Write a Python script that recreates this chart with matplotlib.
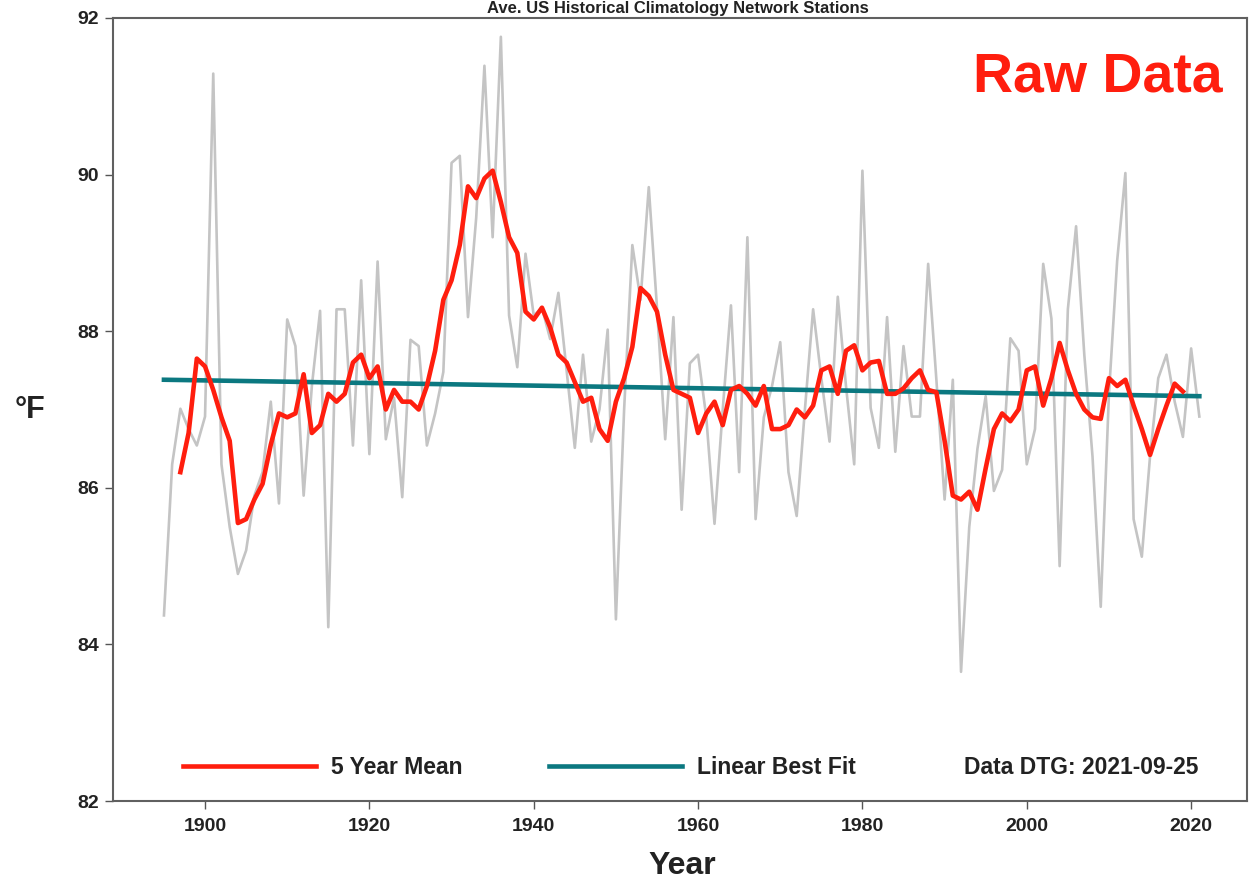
import numpy as np
import matplotlib
matplotlib.use("Agg")
import matplotlib.pyplot as plt
from matplotlib.lines import Line2D

plt.rcParams['font.family'] = ['Liberation Sans', 'DejaVu Sans']
plt.rcParams['font.weight'] = 'bold'

# ---------------- data ----------------
years = list(range(1895, 2022))
annual = [
    84.37, 86.30, 87.01, 86.75, 86.54, 86.91, 91.29, 86.30, 85.50, 84.90,   # 1895-1904
    85.20, 85.90, 86.20, 87.10, 85.80, 88.15, 87.81, 85.90, 87.30, 88.26,   # 1905-1914
    84.22, 88.28, 88.28, 86.54, 88.65, 86.43, 88.89, 86.62, 87.15, 85.88,   # 1915-1924
    87.89, 87.81, 86.54, 86.95, 87.48, 90.15, 90.24, 88.18, 89.45, 91.39,   # 1925-1934
    89.20, 91.76, 88.20, 87.54, 88.99, 88.20, 88.30, 87.90, 88.49, 87.50,   # 1935-1944
    86.51, 87.70, 86.59, 87.00, 88.02, 84.32, 87.00, 89.10, 88.40, 89.84,   # 1945-1954
    88.30, 86.62, 88.18, 85.72, 87.59, 87.70, 86.90, 85.54, 87.00, 88.33,   # 1955-1964
    86.20, 89.20, 85.60, 86.90, 87.30, 87.86, 86.20, 85.64, 87.00, 88.28,   # 1965-1974
    87.40, 86.59, 88.44, 87.30, 86.30, 90.05, 87.02, 86.51, 88.18, 86.46,   # 1975-1984
    87.81, 86.91, 86.91, 88.86, 87.38, 85.85, 87.38, 83.65, 85.50, 86.50,   # 1985-1994
    87.17, 85.96, 86.23, 87.91, 87.75, 86.30, 86.75, 88.86, 88.16, 85.00,   # 1995-2004
    88.28, 89.34, 87.70, 86.40, 84.48, 87.20, 88.90, 90.02, 85.60, 85.12,   # 2005-2014
    86.40, 87.40, 87.70, 87.10, 86.65, 87.78, 86.91,                        # 2015-2021
]

mean_years = list(range(1897, 2020))
mean5 = [
    86.20, 86.70, 87.65, 87.55, 87.25, 86.90, 86.60, 85.55,                  # 1897-1904
    85.60, 85.85, 86.05, 86.55, 86.95, 86.90, 86.95, 87.45, 86.70, 86.80,   # 1905-1914
    87.20, 87.10, 87.20, 87.60, 87.70, 87.40, 87.55, 87.00, 87.25, 87.10,   # 1915-1924
    87.10, 87.00, 87.30, 87.75, 88.40, 88.65, 89.10, 89.85, 89.70, 89.95,   # 1925-1934
    90.05, 89.65, 89.20, 89.00, 88.25, 88.15, 88.30, 88.05, 87.70, 87.60,   # 1935-1944
    87.35, 87.10, 87.15, 86.75, 86.60, 87.10, 87.40, 87.80, 88.55, 88.45,   # 1945-1954
    88.25, 87.70, 87.25, 87.20, 87.15, 86.70, 86.95, 87.10, 86.80, 87.25,   # 1955-1964
    87.30, 87.20, 87.05, 87.30, 86.75, 86.75, 86.80, 87.00, 86.90, 87.05,   # 1965-1974
    87.50, 87.55, 87.20, 87.75, 87.82, 87.50, 87.60, 87.62, 87.20, 87.20,   # 1975-1984
    87.27, 87.40, 87.50, 87.25, 87.22, 86.60, 85.90, 85.85, 85.95, 85.72,   # 1985-1994
    86.25, 86.75, 86.95, 86.85, 87.00, 87.50, 87.55, 87.05, 87.40, 87.85,   # 1995-2004
    87.50, 87.20, 87.00, 86.90, 86.88, 87.40, 87.30, 87.38, 87.05, 86.75,   # 2005-2014
    86.42, 86.75, 87.05, 87.33, 87.23,                                      # 2015-2019
]

fit_years = [1895, 2021]
fit_values = [87.38, 87.17]

y_ticks = [82, 84, 86, 88, 90, 92]
x_ticks = [1900, 1920, 1940, 1960, 1980, 2000, 2020]

# ---------------- figure ----------------
W, H = 1251, 884
fig = plt.figure(figsize=(W / 100, H / 100), dpi=100)
ax = fig.add_axes([113 / W, 1 - 801 / H, (1247 - 113) / W, (801 - 18) / H])

GREY = '#c4c4c4'
RED = '#ff1e0e'
TEAL = '#0b7880'
INK = '#222222'

ax.plot(years, annual, color=GREY, lw=1.9, zorder=1)
ax.plot(fit_years, fit_values, color=TEAL, lw=3.3, zorder=2)
ax.plot(mean_years, mean5, color=RED, lw=3.3, zorder=3, solid_joinstyle='round')

ax.set_xlim(1888.8, 2026.8)
ax.set_ylim(82, 92)
ax.set_xticks(x_ticks)
ax.set_yticks(y_ticks)
ax.tick_params(direction='out', length=6, width=1, color='#555555',
               labelsize=14, labelcolor=INK)
ax.tick_params(axis='y', pad=4)
ax.tick_params(axis='x', pad=6)
for lab in ax.get_xticklabels() + ax.get_yticklabels():
    lab.set_fontweight('bold')
for s in ax.spines.values():
    s.set_color('#606060')
    s.set_linewidth(1.5)

# legend-like row inside the plot
h_red = Line2D([], [], color=RED, lw=3.3)
h_teal = Line2D([], [], color=TEAL, lw=3.3)
leg = ax.legend([h_red, h_teal], ['5 Year Mean', 'Linear Best Fit'],
                loc='center left', bbox_to_anchor=(70 / 1134, 33 / 783),
                ncol=2, frameon=False, borderpad=0, borderaxespad=0,
                handlelength=5.8, handletextpad=0.65, columnspacing=3.8,
                prop={'weight': 'bold', 'size': 16.5})
for t in leg.get_texts():
    t.set_color(INK)
ax.text((1198 - 113) / 1134, 33 / 783, 'Data DTG: 2021-09-25', transform=ax.transAxes,
        fontsize=16.5, fontweight='bold', color=INK, ha='right', va='center')

# "Raw Data" annotation
ax.text((1223 - 113) / 1134, (801 - 78) / 783, 'Raw Data', transform=ax.transAxes,
        fontsize=40, fontweight='bold', color=RED, ha='right', va='center')

# axis labels
fig.text(30 / W, 1 - 410 / H, '°F', fontsize=22, fontweight='bold',
         color=INK, ha='center', va='center')
fig.text(682 / W, 1 - 866 / H, 'Year', fontsize=23, fontweight='bold',
         color=INK, ha='center', va='center')

# title (cut off in the reference); kept fully visible in the top margin
fig.text(678 / W, 1 - 1 / H, 'Ave. US Historical Climatology Network Stations',
         fontsize=12, fontweight='bold', color=INK, ha='center', va='top')

fig.savefig('out.png', dpi=100)
